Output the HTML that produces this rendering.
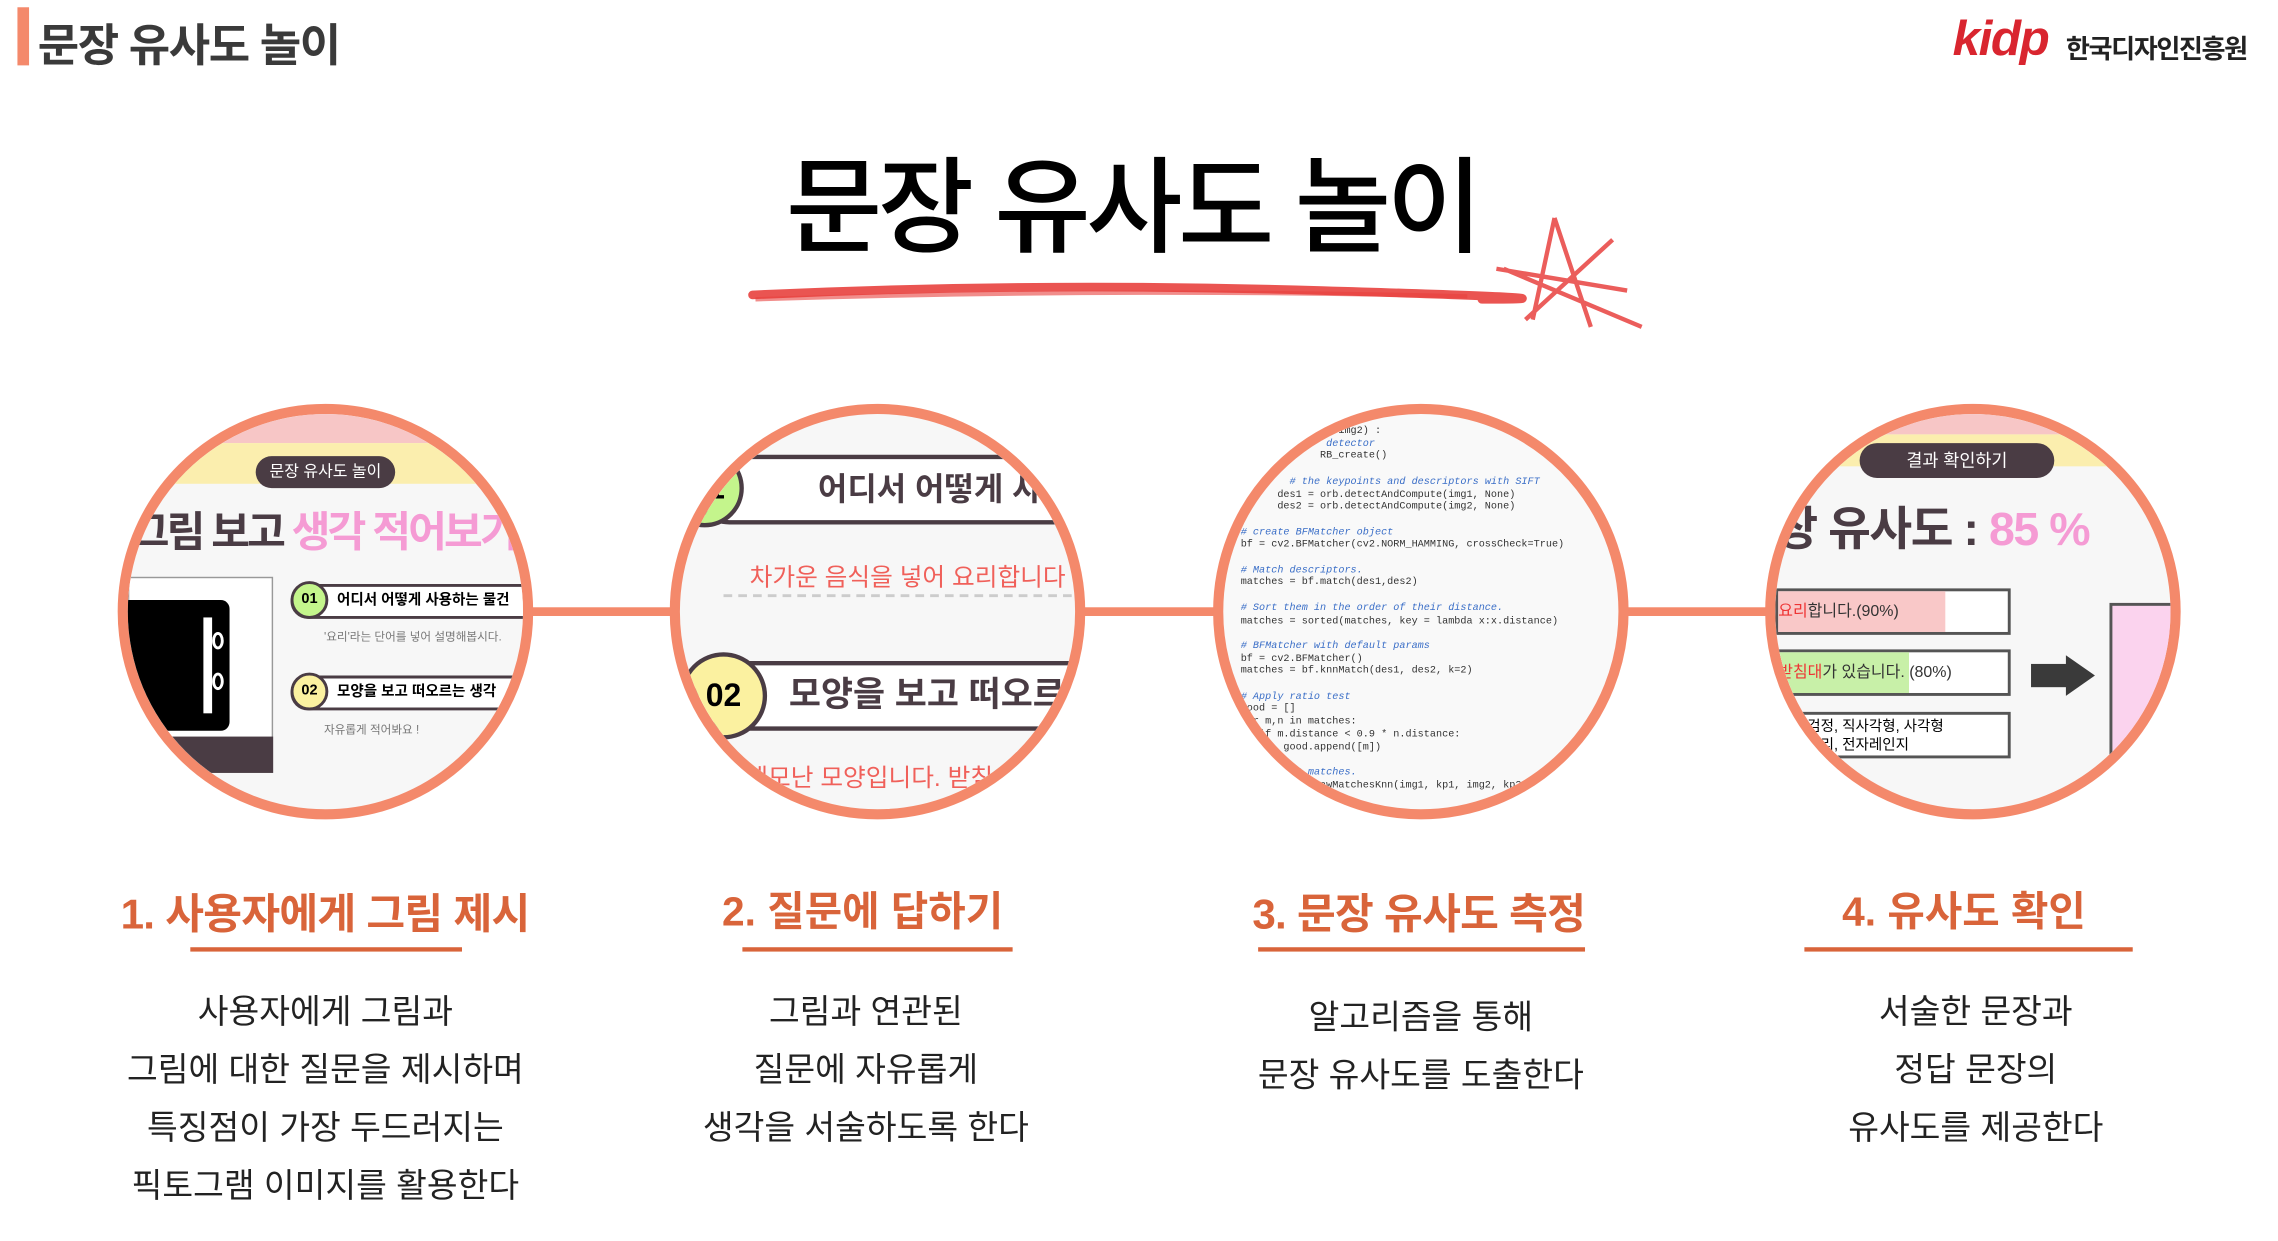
<!DOCTYPE html>
<html><head><meta charset="utf-8"><style>
*{margin:0;padding:0;box-sizing:border-box}
html,body{width:2278px;height:1241px;overflow:hidden;background:#fff}
#s{position:absolute;left:0;top:0;width:1568px;height:854px;transform:scale(1.45281);transform-origin:0 0;font-family:"Liberation Sans","Noto Sans CJK KR",sans-serif}
.a{position:absolute}
.c{position:absolute;width:286px;height:286px;border-radius:50%;border:7px solid #f4896b;overflow:hidden;background:#f7f7f7;top:278px}
.h{position:absolute;top:606px;font-size:28px;font-weight:bold;color:#d9643a;text-align:center;letter-spacing:0px;white-space:nowrap}
.u{position:absolute;top:652px;height:3px;background:#d9643a}
.t{position:absolute;font-size:23px;color:#222;text-align:center;line-height:40px;white-space:nowrap}
.code{font-family:"Liberation Mono",monospace;font-size:7px;color:#333;line-height:8.7px;white-space:pre}
.cm{color:#3a6ec7;font-style:italic}
</style></head><body><div id="s">
<div class="a" style="left:12px;top:5px;width:8px;height:40px;background:#f4896b"></div>
<div class="a" style="left:26px;top:6px;font-size:31px;font-weight:bold;color:#3a3a3a;letter-spacing:-1px">문장 유사도 놀이</div>
<div class="a" style="left:1344px;top:8px;font-size:34px;color:#d9252f;font-weight:bold;letter-spacing:-1px;font-style:italic">kidp</div>
<div class="a" style="left:1422px;top:20px;font-size:18px;font-weight:bold;color:#222;letter-spacing:-1px">한국디자인진흥원</div>
<div class="a" style="left:541px;top:84px;font-size:72px;color:#000;letter-spacing:-3px;font-weight:500">문장 유사도 놀이</div>
<svg class="a" style="left:510px;top:140px" width="640" height="100">
<path d="M8 63 Q200 54 400 60 T510 66" stroke="#e8413e" stroke-width="6" fill="none" stroke-linecap="round" opacity=".9"/>
<path d="M10 66 Q260 58 500 64" stroke="#e8413e" stroke-width="3" fill="none" opacity=".6"/>
<path d="M560 10 L585 85 M560 10 L545 80 M520 45 L610 60 M525 45 L620 85 M540 80 L600 25" stroke="#e8413e" stroke-width="3" fill="none" opacity=".85"/>
</svg>
<div class="a" style="left:360px;top:418px;width:870px;height:6px;background:#f4896b"></div>

<div class="c" style="left:81px">
 <div class="a" style="left:0;top:0;width:300px;height:20px;background:#f7c6c6"></div>
 <div class="a" style="left:0;top:20px;width:300px;height:28px;background:#fbeeae"></div>
 <div class="a" style="left:88px;top:29px;width:96px;height:22px;border-radius:11px;background:#4a3c44;color:#fff;font-size:11px;text-align:center;line-height:22px">문장 유사도 놀이</div>
 <div class="a" style="left:2px;top:58px;font-size:29px;font-weight:bold;color:#4a3c44;white-space:nowrap;letter-spacing:-2px">그림 보고 <span style="color:#f59bd4">생각 적어보기</span></div>
 <div class="a" style="left:0;top:112px;width:100px;height:135px;background:#fff;border:1px solid #999"></div>
 <div class="a" style="left:-10px;top:128px;width:80px;height:90px;background:#000;border-radius:6px"></div>
 <div class="a" style="left:52px;top:140px;width:6px;height:66px;background:#fff"></div>
 <div class="a" style="left:58px;top:150px;width:8px;height:12px;border:2px solid #fff;border-radius:50%"></div>
 <div class="a" style="left:58px;top:178px;width:8px;height:12px;border:2px solid #fff;border-radius:50%"></div>
 <div class="a" style="left:0;top:222px;width:100px;height:25px;background:#4a3c44"></div>
 <div class="a" style="left:112px;top:117px;width:180px;height:24px;border:2px solid #4a3c44;border-radius:12px;background:#fff;font-size:10px;padding-left:30px;line-height:20px;font-weight:bold">어디서 어떻게 사용하는 물건</div>
 <div class="a" style="left:112px;top:115px;width:26px;height:26px;border-radius:50%;background:#c4f58c;border:2px solid #4a3c44;font-size:10px;text-align:center;line-height:22px;font-weight:bold">01</div>
 <div class="a" style="left:135px;top:148px;font-size:8px;color:#777">'요리'라는 단어를 넣어 설명해봅시다.</div>
 <div class="a" style="left:112px;top:180px;width:180px;height:24px;border:2px solid #4a3c44;border-radius:12px;background:#fff;font-size:10px;padding-left:30px;line-height:20px;font-weight:bold">모양을 보고 떠오르는 생각</div>
 <div class="a" style="left:112px;top:178px;width:26px;height:26px;border-radius:50%;background:#fbf1a0;border:2px solid #4a3c44;font-size:10px;text-align:center;line-height:22px;font-weight:bold">02</div>
 <div class="a" style="left:135px;top:212px;font-size:8px;color:#777">자유롭게 적어봐요 !</div>
</div>

<div class="c" style="left:461px">
 <div class="a" style="left:10px;top:28px;width:290px;height:48px;border:3px solid #4a3c44;border-radius:24px;background:#fff;font-size:22px;font-weight:bold;color:#4a3c44;padding-left:82px;line-height:42px;white-space:nowrap">어디서 어떻게 사용</div>
 <div class="a" style="left:-10px;top:24px;width:54px;height:54px;border-radius:50%;background:#c4f58c;border:3px solid #4a3c44;font-size:22px;font-weight:bold;text-align:right;padding-right:10px;line-height:48px">01</div>
 <div class="a" style="left:48px;top:98px;font-size:17px;color:#f0605a;white-space:nowrap">차가운 음식을 넣어 요리합니다</div>
 <div class="a" style="left:30px;top:124px;width:260px;border-top:2px dashed #ccc"></div>
 <div class="a" style="left:10px;top:170px;width:290px;height:48px;border:3px solid #4a3c44;border-radius:24px;background:#fff;font-size:24px;font-weight:bold;color:#4a3c44;padding-left:62px;line-height:42px;white-space:nowrap">모양을 보고 떠오르는</div>
 <div class="a" style="left:0;top:164px;width:60px;height:60px;border-radius:50%;background:#fbf1a0;border:3px solid #4a3c44;font-size:22px;font-weight:bold;text-align:center;line-height:54px">02</div>
 <div class="a" style="left:45px;top:236px;font-size:17px;color:#f0605a;white-space:nowrap">네모난 모양입니다. 받침</div>
</div>

<div class="c" style="left:835px;background:#f9f9f9">
 <div class="a code" style="left:12px;top:8px">                img2) :
              <span class="cm">detector</span>
             RB_create()

        <span class="cm"># the keypoints and descriptors with SIFT</span>
      des1 = orb.detectAndCompute(img1, None)
      des2 = orb.detectAndCompute(img2, None)

<span class="cm"># create BFMatcher object</span>
bf = cv2.BFMatcher(cv2.NORM_HAMMING, crossCheck=True)

<span class="cm"># Match descriptors.</span>
matches = bf.match(des1,des2)

<span class="cm"># Sort them in the order of their distance.</span>
matches = sorted(matches, key = lambda x:x.distance)

<span class="cm"># BFMatcher with default params</span>
bf = cv2.BFMatcher()
matches = bf.knnMatch(des1, des2, k=2)

<span class="cm"># Apply ratio test</span>
good = []
for m,n in matches:
   if m.distance &lt; 0.9 * n.distance:
       good.append([m])

      <span class="cm"># 10 matches.</span>
       cv2.drawMatchesKnn(img1, kp1, img2, kp2,</div>
</div>

<div class="c" style="left:1215px">
 <div class="a" style="left:0;top:0;width:300px;height:14px;background:#f7c6c6"></div>
 <div class="a" style="left:0;top:14px;width:300px;height:22px;background:#fbeeae"></div>
 <div class="a" style="left:58px;top:20px;width:134px;height:24px;border-radius:12px;background:#4a3c44;color:#fff;font-size:12px;text-align:center;line-height:24px">결과 확인하기</div>
 <div class="a" style="left:0;top:54px;font-size:32px;font-weight:bold;color:#4a3c44;white-space:nowrap;letter-spacing:-1px">장 유사도 : <span style="color:#f59bd4">85 %</span></div>
 <div class="a" style="left:0;top:120px;width:162px;height:32px;border:2px solid #555;background:#fff"><div style="width:115px;height:28px;background:#f9c8c8;font-size:11px;line-height:28px;color:#333"><span style="color:#e33">요리</span>합니다.(90%)</div></div>
 <div class="a" style="left:0;top:162px;width:162px;height:32px;border:2px solid #555;background:#fff"><div style="width:90px;height:28px;background:#c8f0a8;font-size:11px;line-height:28px;color:#333;white-space:nowrap"><span style="color:#e33">받침대</span>가 있습니다. (80%)</div></div>
 <div class="a" style="left:0;top:205px;width:162px;height:32px;border:2px solid #555;background:#fff;font-size:10px;line-height:13px;padding:2px 20px">검정, 직사각형, 사각형<br>조리, 전자레인지</div>
 <div class="a" style="left:176px;top:172px;width:26px;height:16px;background:#3a3a3a"></div>
 <div class="a" style="left:200px;top:166px;width:0;height:0;border-top:14px solid transparent;border-bottom:14px solid transparent;border-left:20px solid #3a3a3a"></div>
 <div class="a" style="left:230px;top:130px;width:60px;height:120px;border:2px solid #555;background:#fbd3ee"></div>
</div>

<div class="h" style="left:83px;font-size:29px;letter-spacing:-0.5px">1. 사용자에게 그림 제시</div>
<div class="u" style="left:131px;width:187px"></div>
<div class="h" style="left:497px">2. 질문에 답하기</div>
<div class="u" style="left:511px;width:186px"></div>
<div class="h" style="left:862px;font-size:29px;letter-spacing:-0.5px">3. 문장 유사도 측정</div>
<div class="u" style="left:866px;width:225px"></div>
<div class="h" style="left:1268px">4. 유사도 확인</div>
<div class="u" style="left:1242px;width:226px"></div>

<div class="t" style="left:74px;width:300px;top:676px">사용자에게 그림과<br>그림에 대한 질문을 제시하며<br>특징점이 가장 두드러지는<br>픽토그램 이미지를 활용한다</div>
<div class="t" style="left:446px;width:300px;top:676px">그림과 연관된<br>질문에 자유롭게<br>생각을 서술하도록 한다</div>
<div class="t" style="left:828px;width:300px;top:680px">알고리즘을 통해<br>문장 유사도를 도출한다</div>
<div class="t" style="left:1210px;width:300px;top:676px">서술한 문장과<br>정답 문장의<br>유사도를 제공한다</div>
</div></body></html>
